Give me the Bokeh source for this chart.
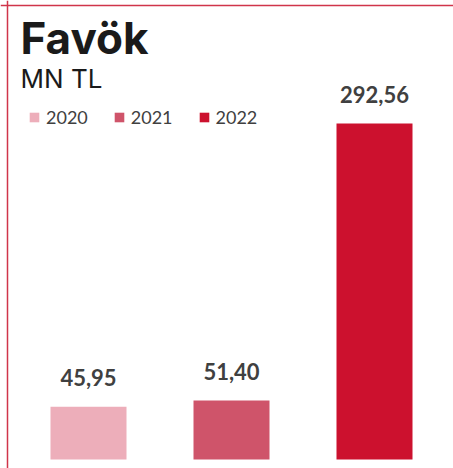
from bokeh.plotting import figure
from bokeh.models import ColumnDataSource, Range1d, Label, Legend, LegendItem, Span, LabelSet
from bokeh.core.properties import value
from bokeh.embed import file_html
from bokeh.resources import INLINE

# ---- data ----
years = ["2020", "2021", "2022"]
values = [45.95, 51.40, 292.56]
value_labels = ["45,95", "51,40", "292,56"]
colors = ["#EDAEBA", "#CF546A", "#CC112E"]
title_text = "Favök"
subtitle_text = "MN TL"

W, H = 453, 468
px_per_unit = 1.1485
y_start = -9.0 / px_per_unit
y_end = y_start + H / px_per_unit
spacing = 143.0
x_start = -88.0 / spacing
x_end = x_start + W / spacing

src = ColumnDataSource(dict(
    x=list(range(len(years))),
    top=values,
    year=years,
    color=colors,
    lab=value_labels,
))

p = figure(width=W, height=H, output_backend="svg", toolbar_location=None,
           x_range=Range1d(x_start, x_end), y_range=Range1d(y_start, y_end),
           x_axis_location=None, y_axis_location=None,
           min_border=0, min_border_left=0, min_border_right=0,
           min_border_top=0, min_border_bottom=0)
p.grid.visible = False
p.outline_line_color = None
p.background_fill_color = "white"
p.border_fill_color = "white"

bars = p.vbar(x="x", top="top", bottom=0, width=76 / spacing, color="color",
              line_color=None, source=src)

labels = LabelSet(x="x", y="top", text="lab", source=src, text_align="center",
                  text_baseline="middle", y_offset=29,
                  text_font=value("Lato"), text_font_style="bold",
                  text_font_size="22px", text_color="#404040")
p.add_layout(labels)

legend = Legend(
    items=[LegendItem(label=y, renderers=[bars], index=i) for i, y in enumerate(years)],
    orientation="horizontal", location=(28, 340), padding=0, margin=0,
    spacing=25, glyph_width=12, glyph_height=12, label_standoff=6,
    label_text_font="Lato", label_text_font_size="18px", label_text_color="#404040",
    label_height=20, background_fill_alpha=0, border_line_color=None,
)
p.add_layout(legend, "center")

p.add_layout(Label(x=20, y=H - 37, x_units="screen", y_units="screen", text=title_text,
                   text_font="Inter", text_font_style="bold", text_font_size="44px",
                   text_color="#1A1A1A", text_baseline="alphabetic"))
p.add_layout(Label(x=20, y=H - 78, x_units="screen", y_units="screen", text=subtitle_text,
                   text_font="Inter", text_font_size="26px",
                   text_color="#1A1A1A", text_baseline="alphabetic"))

p.add_layout(Span(location=H - 5, location_units="screen", dimension="width",
                  line_color="#D0344A", line_width=1.5))
p.add_layout(Span(location=7, location_units="screen", dimension="height",
                  line_color="#D0344A", line_width=1.5))

open("out.html", "w").write(file_html(p, INLINE))
